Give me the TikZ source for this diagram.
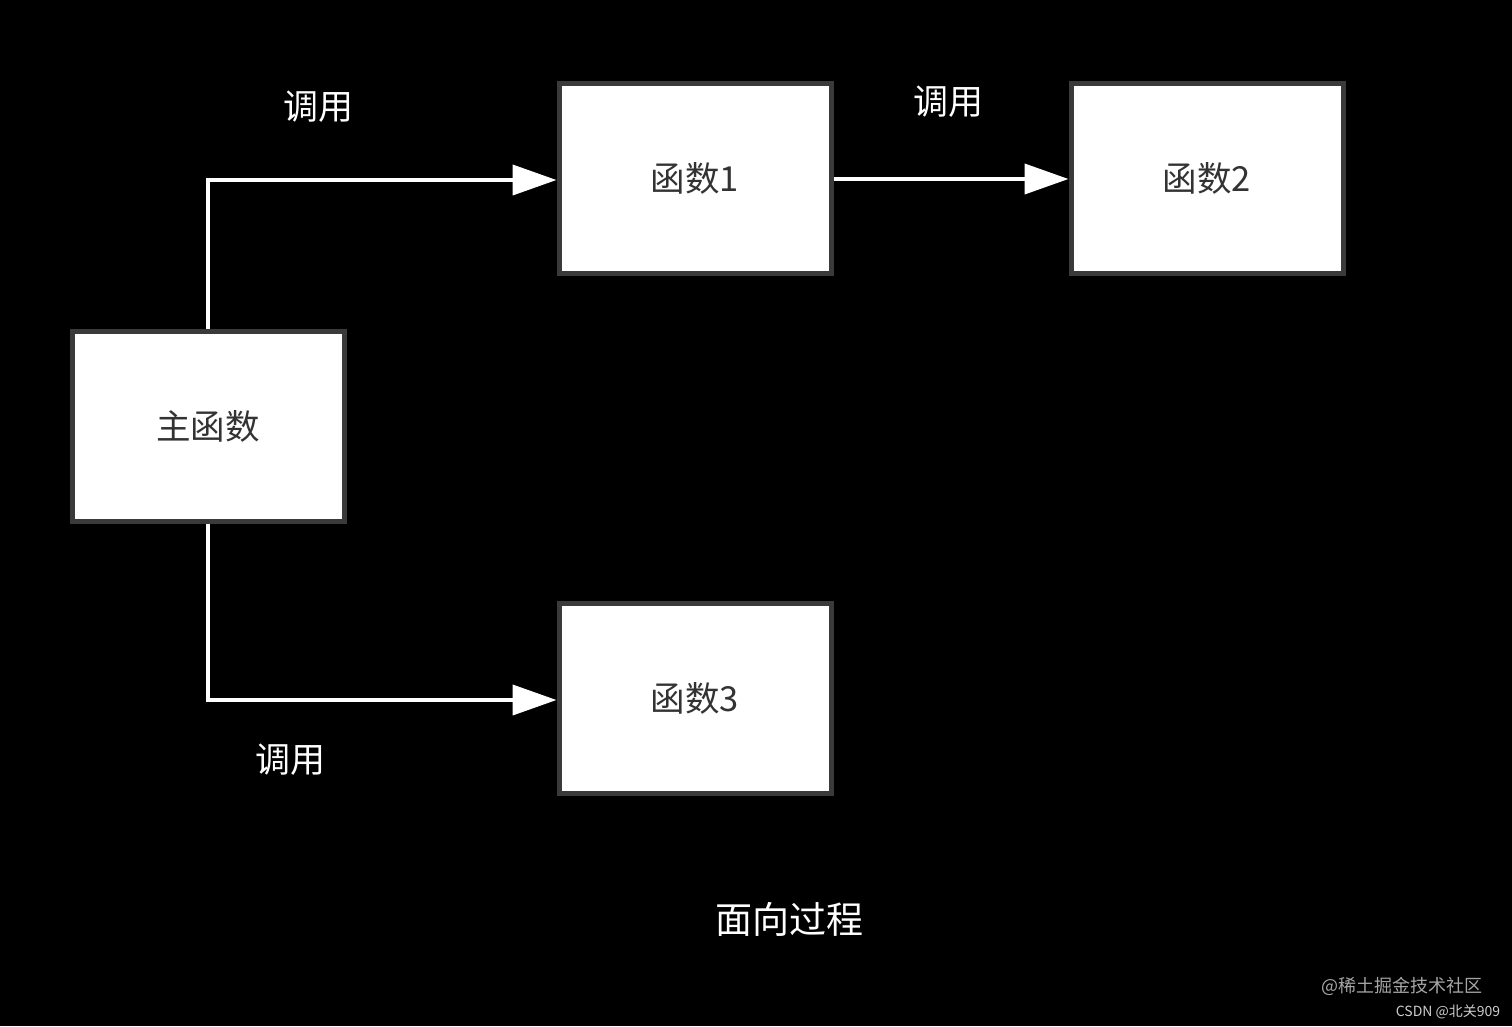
\documentclass[tikz,border=0pt]{standalone}
\usepackage{fontspec}
\setmainfont{Noto Sans CJK SC}
\usetikzlibrary{arrows.meta}
\begin{document}
\begin{tikzpicture}[x=1pt,y=-1pt,
  fbox/.style={draw=boxborder,line width=5pt,fill=white,minimum width=272pt,minimum height=190pt,inner sep=0pt,font=\fontsize{34.5}{40}\selectfont,text=boxtext},
  conn/.style={draw=white,line width=4pt,-{Triangle[length=44pt,width=30pt]}},
  lbl/.style={text=white,font=\fontsize{35}{40}\selectfont,inner sep=0pt}]
\definecolor{boxborder}{HTML}{3A3A3A}
\definecolor{boxtext}{HTML}{333333}
\fill[black] (0,0) rectangle (1512,1026);
\useasboundingbox (0,0) rectangle (1512,1026);
\node[fbox] (main) at (208,426) {主函数};
\node[fbox] (f1) at (695,178.5) {函数1};
\node[fbox] (f2) at (1207,178.5) {函数2};
\node[fbox] (f3) at (695,698.5) {函数3};
\coordinate (c1) at (208,180);
\coordinate (c3) at (208,700);
\draw[conn] (main.north) -- (c1) -- (c1 -| f1.west);
\draw[conn] (f1.east |- 0,179) -- (f2.west |- 0,179);
\draw[conn] (main.south) -- (c3) -- (c3 -| f3.west);
\node[lbl] (l1) at (318,107) {调用};
\node[lbl] (l2) at (948,102) {调用};
\node[lbl] (l3) at (290,760) {调用};
\node[lbl,font=\fontsize{37}{42}\selectfont] (title) at (789,919) {面向过程};
\node[text=gray!70,font=\fontsize{18}{22}\selectfont,inner sep=0pt] (wm1) at (1402,986) {@稀土掘金技术社区};
\node[text=gray!40,font=\fontsize{14}{16}\selectfont,inner sep=0pt] (wm2) at (1448,1012) {CSDN @北关909};
\end{tikzpicture}
\end{document}
